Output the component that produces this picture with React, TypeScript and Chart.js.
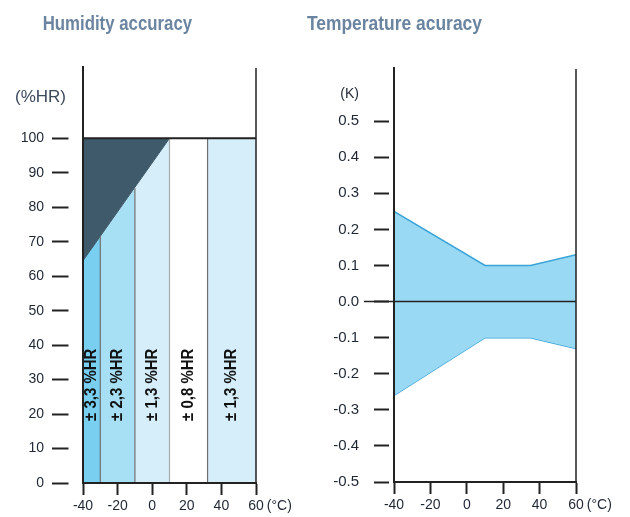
import React, { useEffect, useRef } from 'react';
import { Chart, registerables } from 'chart.js';

Chart.register(...registerables);

// ---------- data ----------
const humTitle = 'Humidity accuracy';
const tempTitle = 'Temperature acuracy';

const humBandStart = [-40, -30, -10, 10, 32];
const humBandEnd = [-30, -10, 10, 32, 60];
const humBandTopStart = [64.5, 71.5, 85.5, 100, 100];
const humBandTopEnd = [71.5, 85.5, 100, 100, 100];
const humBandLabels = ['± 3,3 %HR', '± 2,3 %HR', '± 1,3 %HR', '± 0,8 %HR', '± 1,3 %HR'];
const humBandColors = ['#78cff0', '#a7dff4', '#d5eef9', '#ffffff', '#d5eef9'];
const humLabelY = 28.5;
const humDarkX = [-40, 10];
const humDarkLow = [64.5, 100];
const humTop = 100;
const humYTicks = [0, 10, 20, 30, 40, 50, 60, 70, 80, 90, 100];
const humXTicks = [-40, -20, 0, 20, 40, 60];
const humYMax = 121;
const humUnit = '(%HR)';

const tempX = [-40, 10, 35, 60];
const tempUpper = [0.25, 0.1, 0.1, 0.13];
const tempLower = [-0.26, -0.1, -0.1, -0.13];
const tempYTicks = [-0.5, -0.4, -0.3, -0.2, -0.1, 0, 0.1, 0.2, 0.3, 0.4, 0.5];
const tempXTicks = [-40, -20, 0, 20, 40, 60];
const tempYMin = -0.5;
const tempYMax = 0.65;
const tempUnit = '(K)';
const xUnit = '(°C)';

// ---------- styling ----------
const FONT = '"Liberation Sans", Arial, sans-serif';
const INK = '#1f2733';
const FRAME = '#222222';

function drawUnitX(chart: any, size: number) {
  const xs = chart.scales.x;
  const ctx = chart.ctx;
  const last = xs.max;
  const px = xs.getPixelForValue(last);
  ctx.save();
  ctx.font = `${size}px ${FONT}`;
  const w = ctx.measureText(String(last)).width;
  ctx.fillStyle = INK;
  ctx.textAlign = 'left';
  ctx.textBaseline = 'middle';
  const y = xs.top + 12 + 3 + (size * 1.2) / 2;
  ctx.fillText(xUnit, px + w / 2 + 3, y);
  ctx.restore();
}

function drawFrame(chart: any) {
  const { ctx, chartArea } = chart;
  ctx.save();
  ctx.strokeStyle = FRAME;
  ctx.lineWidth = 2;
  ctx.beginPath();
  ctx.moveTo(chartArea.left, chartArea.top);
  ctx.lineTo(chartArea.left, chartArea.bottom);
  ctx.stroke();
  ctx.lineWidth = 1.5;
  ctx.beginPath();
  ctx.moveTo(chartArea.right, chartArea.top + 2);
  ctx.lineTo(chartArea.right, chartArea.bottom);
  ctx.stroke();
  ctx.restore();
}

const humPlugin = {
  id: 'humDecor',
  afterDraw(chart: any) {
    const { ctx, chartArea, scales } = chart;
    drawFrame(chart);
    // rotated band labels
    ctx.save();
    ctx.font = `bold 17px ${FONT}`;
    ctx.fillStyle = '#111111';
    ctx.textAlign = 'center';
    ctx.textBaseline = 'middle';
    humBandLabels.forEach((lab, i) => {
      const x = scales.x.getPixelForValue((humBandStart[i] + humBandEnd[i]) / 2);
      const y = scales.y.getPixelForValue(humLabelY);
      ctx.save();
      ctx.translate(x, y);
      ctx.rotate(-Math.PI / 2);
      ctx.scale(0.88, 1);
      ctx.fillText(lab, 0, 0);
      ctx.restore();
    });
    ctx.restore();
    // unit label
    ctx.save();
    ctx.font = `17px ${FONT}`;
    ctx.fillStyle = '#3b4a5c';
    ctx.textAlign = 'right';
    ctx.textBaseline = 'middle';
    ctx.fillText(humUnit, chartArea.left - 17, chartArea.top + 31);
    ctx.restore();
    drawUnitX(chart, 14);
  },
};

const tempPlugin = {
  id: 'tempDecor',
  afterDatasetsDraw(chart: any) {
    const { ctx, chartArea, scales } = chart;
    const y0 = scales.y.getPixelForValue(0);
    ctx.save();
    ctx.strokeStyle = FRAME;
    ctx.lineWidth = 1.5;
    ctx.beginPath();
    ctx.moveTo(chartArea.left - 30, y0);
    ctx.lineTo(chartArea.right, y0);
    ctx.stroke();
    ctx.restore();
  },
  afterDraw(chart: any) {
    const { ctx, chartArea } = chart;
    drawFrame(chart);
    ctx.save();
    ctx.font = `14px ${FONT}`;
    ctx.fillStyle = INK;
    ctx.textAlign = 'right';
    ctx.textBaseline = 'middle';
    ctx.fillText(tempUnit, chartArea.left - 35, chartArea.top + 27);
    ctx.restore();
    drawUnitX(chart, 14);
  },
};

function lineDs(points: { x: number; y: number }[], extra: any) {
  return {
    type: 'line',
    data: points,
    pointRadius: 0,
    borderWidth: 0,
    fill: false,
    tension: 0,
    ...extra,
  };
}

function humConfig(): any {
  const datasets: any[] = [];
  // top line at 100
  datasets.push(
    lineDs(
      [
        { x: humBandStart[0], y: humTop },
        { x: humBandEnd[humBandEnd.length - 1], y: humTop },
      ],
      { borderColor: FRAME, borderWidth: 2, order: 0 }
    )
  );
  // band edges
  for (let i = 1; i < humBandStart.length; i++) {
    datasets.push(
      lineDs(
        [
          { x: humBandStart[i], y: 0 },
          { x: humBandStart[i], y: humBandTopStart[i] },
        ],
        { borderColor: i === 3 ? '#a9a9a9' : '#6f6f6f', borderWidth: 1.2, order: 0 }
      )
    );
  }
  // dark area
  datasets.push(
    lineDs(
      humDarkX.map((x) => ({ x, y: humTop })),
      { fill: '+1', backgroundColor: '#3e5a6b', borderWidth: 0, order: 2 }
    )
  );
  datasets.push(
    lineDs(
      humDarkX.map((x, i) => ({ x, y: humDarkLow[i] })),
      { borderColor: '#3e5a6b', borderWidth: 1, order: 2 }
    )
  );
  // bands
  humBandStart.forEach((s, i) => {
    datasets.push(
      lineDs(
        [
          { x: s, y: humBandTopStart[i] },
          { x: humBandEnd[i], y: humBandTopEnd[i] },
        ],
        { fill: 'origin', backgroundColor: humBandColors[i], borderWidth: 0, order: 3 }
      )
    );
  });

  return {
    type: 'line',
    data: { datasets },
    plugins: [humPlugin],
    options: {
      responsive: false,
      animation: false,
      layout: { padding: { top: 66, right: 59, left: 0, bottom: 0 } },
      plugins: { legend: { display: false }, tooltip: { enabled: false }, title: { display: false } },
      scales: {
        x: {
          type: 'linear',
          min: humXTicks[0],
          max: humXTicks[humXTicks.length - 1],
          afterBuildTicks: (s: any) => {
            s.ticks = humXTicks.map((v) => ({ value: v }));
          },
          afterFit: (s: any) => {
            s.height = 34;
          },
          grid: { drawOnChartArea: false, drawTicks: true, tickLength: 12, tickWidth: 2, tickColor: FRAME },
          border: { display: true, color: FRAME, width: 2, z: 1 },
          ticks: { color: INK, font: { family: FONT, size: 14 }, padding: 3, maxRotation: 0 },
        },
        y: {
          type: 'linear',
          min: 0,
          max: humYMax,
          afterBuildTicks: (s: any) => {
            s.ticks = humYTicks.map((v) => ({ value: v }));
          },
          afterFit: (s: any) => {
            s.width = 83;
          },
          grid: {
            drawOnChartArea: false,
            drawTicks: true,
            tickLength: 31,
            tickWidth: 2,
            tickColor: FRAME,
            tickBorderDash: [16.5, 30],
          },
          border: { display: false },
          ticks: { color: INK, font: { family: FONT, size: 14 }, padding: 8 },
        },
      },
    },
  };
}

function tempConfig(): any {
  const up = tempX.map((x, i) => ({ x, y: tempUpper[i] }));
  const lo = tempX.map((x, i) => ({ x, y: tempLower[i] }));
  return {
    type: 'line',
    data: {
      datasets: [
        lineDs(up, { fill: '+1', backgroundColor: '#9ad9f3', borderColor: '#3aa3d8', borderWidth: 1.5 }),
        lineDs(lo, { borderColor: '#3aa3d8', borderWidth: 1.5 }),
      ],
    },
    plugins: [tempPlugin],
    options: {
      responsive: false,
      animation: false,
      layout: { padding: { top: 67, right: 54, left: 0, bottom: 0 } },
      plugins: { legend: { display: false }, tooltip: { enabled: false }, title: { display: false } },
      scales: {
        x: {
          type: 'linear',
          min: tempXTicks[0],
          max: tempXTicks[tempXTicks.length - 1],
          afterBuildTicks: (s: any) => {
            s.ticks = tempXTicks.map((v) => ({ value: v }));
          },
          afterFit: (s: any) => {
            s.height = 35;
          },
          grid: { drawOnChartArea: false, drawTicks: true, tickLength: 12, tickWidth: 2, tickColor: FRAME },
          border: { display: true, color: FRAME, width: 2, z: 1 },
          ticks: { color: INK, font: { family: FONT, size: 14 }, padding: 3, maxRotation: 0 },
        },
        y: {
          type: 'linear',
          min: tempYMin,
          max: tempYMax,
          afterBuildTicks: (s: any) => {
            s.ticks = tempYTicks.map((v) => ({ value: v }));
          },
          afterFit: (s: any) => {
            s.width = 79;
          },
          grid: {
            drawOnChartArea: false,
            drawTicks: true,
            tickLength: 20,
            tickWidth: 2,
            tickColor: FRAME,
            tickBorderDash: [15, 30],
          },
          border: { display: false },
          ticks: {
            color: INK,
            font: { family: FONT, size: 15 },
            padding: 15,
            callback: (v: any) => Number(v).toFixed(1),
          },
        },
      },
    },
  };
}

const titleBox = (left: number, width: number): React.CSSProperties => ({
  position: 'absolute',
  left,
  top: 12,
  width,
  textAlign: 'center',
  whiteSpace: 'nowrap',
});

const titleText = (sx: number): React.CSSProperties => ({
  display: 'inline-block',
  font: `bold 21px ${FONT}`,
  lineHeight: '21px',
  color: '#6b84a0',
  transform: `scaleX(${sx})`,
  transformOrigin: 'center',
});

export default function App() {
  const leftRef = useRef<HTMLCanvasElement>(null);
  const rightRef = useRef<HTMLCanvasElement>(null);

  useEffect(() => {
    const c1 = new Chart(leftRef.current as HTMLCanvasElement, humConfig());
    const c2 = new Chart(rightRef.current as HTMLCanvasElement, tempConfig());
    return () => {
      c1.destroy();
      c2.destroy();
    };
  }, []);

  return (
    <div style={{ position: 'fixed', left: 0, top: 0, width: 630, height: 517, background: '#ffffff' }}>
      <canvas
        ref={leftRef}
        width={315}
        height={517}
        style={{ position: 'absolute', left: 0, top: 0, width: 315, height: 517, display: 'block' }}
      />
      <canvas
        ref={rightRef}
        width={315}
        height={517}
        style={{ position: 'absolute', left: 315, top: 0, width: 315, height: 517, display: 'block' }}
      />
      <div style={titleBox(0, 235)}>
        <span style={titleText(0.8)}>{humTitle}</span>
      </div>
      <div style={titleBox(289, 200)}>
        <span style={titleText(0.83)}>{tempTitle}</span>
      </div>
    </div>
  );
}
